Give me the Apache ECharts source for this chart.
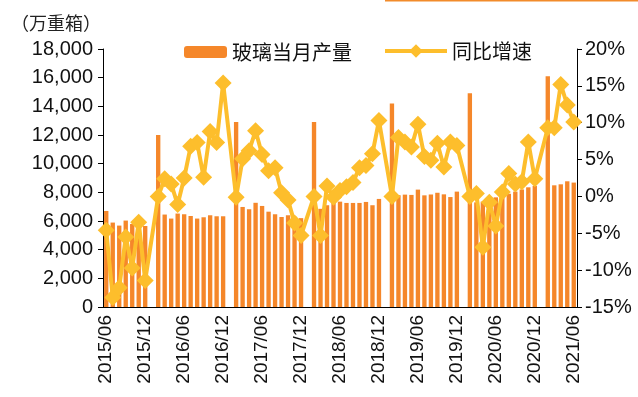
<!DOCTYPE html>
<html>
<head>
<meta charset="utf-8">
<script src="https://cdn.jsdelivr.net/npm/echarts@6/dist/echarts.min.js"></script>
<style>html,body{margin:0;padding:0;background:#fff;}#c{width:638px;height:397px;}</style>
</head>
<body>
<div id="c"></div>
<script>
// Categories: monthly 2015/06 - 2021/06
const months = [];
for (let y = 2015; y <= 2021; y++) {
  for (let m = 1; m <= 12; m++) {
    if (y === 2015 && m < 6) continue;
    if (y === 2021 && m > 6) continue;
    months.push(y + '/' + (m < 10 ? '0' + m : m));
  }
}
// 玻璃当月产量 (万重箱); January not reported (null)
const output2015 = [6700, 5890, 5680, 6030, 5790, 5850, 5650];
const output2016 = [null, 12000, 6450, 6170, 6520, 6470, 6350, 6170, 6260, 6400, 6330, 6330];
const output2017 = [null, 12910, 6980, 6820, 7270, 7050, 6650, 6470, 6280, 6400, 6300, 6200];
const output2018 = [null, 12910, 6850, 7100, 7300, 7350, 7260, 7260, 7260, 7330, 7100, 7540];
const output2019 = [null, 14190, 7800, 7840, 7820, 8190, 7790, 7850, 7970, 7860, 7670, 8050];
const output2020 = [null, 14920, 7300, 7350, 7500, 7650, 7790, 7900, 8050, 8200, 8350, 8450];
const output2021 = [null, 16100, 8490, 8560, 8770, 8680];
// 同比增速 (%)
const yoy2015 = [-4.6, -13.7, -12.4, -5.5, -9.7, -3.5, -11.4];
const yoy2016 = [null, 0.0, 2.4, 1.7, -1.1, 2.5, 6.8, 7.3, 2.6, 8.8, 7.3, 15.4];
const yoy2017 = [null, -0.1, 5.1, 6.2, 8.9, 5.7, 3.5, 3.9, 0.5, -0.5, -3.6, -5.3];
const yoy2018 = [null, 0.0, -5.3, 1.4, -0.1, 0.8, 1.3, 1.9, 3.9, 4.2, 5.8, 10.3];
const yoy2019 = [null, 0.0, 8.0, 7.4, 6.7, 9.8, 5.4, 4.9, 7.2, 4.0, 7.4, 6.9];
const yoy2020 = [null, 0.0, 0.4, -6.9, -0.8, -4.0, 0.6, 3.1, 1.7, 2.0, 7.4, 2.4];
const yoy2021 = [null, 9.3, 9.3, 15.2, 12.4, 10.1];

const outputData = [].concat(output2015, output2016, output2017, output2018, output2019, output2020, output2021);
const yoyData = [].concat(yoy2015, yoy2016, yoy2017, yoy2018, yoy2019, yoy2020, yoy2021);

const leftTicks = [0, 18000, 2000];
const rightTicks = [-15, 20, 5];

const FONT = '"Liberation Sans", Arial, "Noto Sans CJK SC", sans-serif';
const chart = echarts.init(document.getElementById('c'), null, {renderer: 'canvas'});
chart.setOption({
  animation: false,
  backgroundColor: '#fff',
  textStyle: {fontFamily: FONT},
  title: {
    text: '（万重箱）', left: 6, top: 9,
    textStyle: {fontSize: 18, fontWeight: 'normal', color: '#222', fontFamily: '"Noto Sans CJK SC", sans-serif'}
  },
  graphic: [{
    type: 'line', shape: {x1: 385, y1: 0.5, x2: 638, y2: 0.5},
    style: {stroke: '#F28B2B', lineWidth: 2}
  }],
  legend: [{
    data: ['玻璃当月产量'], left: 179, top: 37, itemWidth: 43, itemHeight: 12, itemGap: 5,
    textStyle: {fontSize: 20, color: '#111', fontFamily: '"Noto Sans CJK SC", sans-serif'}
  }, {
    data: ['同比增速'], left: 378, top: 36, itemWidth: 62, itemHeight: 17,
    lineStyle: {width: 4, color: '#FDBE2C'},
    textStyle: {fontSize: 20, color: '#111', fontFamily: '"Noto Sans CJK SC", sans-serif'}
  }],
  grid: {left: 103, right: 61, top: 49, bottom: 90, containLabel: false},
  xAxis: {
    type: 'category', data: months, boundaryGap: true,
    axisLine: {lineStyle: {color: '#000', width: 1}},
    axisTick: {interval: 5, length: 5, lineStyle: {color: '#000'}},
    axisLabel: {interval: 5, rotate: 90, fontSize: 19, color: '#111', margin: 8, fontFamily: FONT}
  },
  yAxis: [{
    type: 'value', min: leftTicks[0], max: leftTicks[1], interval: leftTicks[2],
    axisLine: {show: true, lineStyle: {color: '#000'}},
    axisTick: {show: true, length: 5, lineStyle: {color: '#000'}},
    splitLine: {show: false},
    axisLabel: {fontSize: 20, color: '#111', margin: 10, fontFamily: FONT,
      formatter: v => v.toString().replace(/\B(?=(\d{3})+(?!\d))/g, ',')}
  }, {
    type: 'value', min: rightTicks[0], max: rightTicks[1], interval: rightTicks[2],
    position: 'right',
    axisLine: {show: true, lineStyle: {color: '#000'}},
    axisTick: {show: true, length: 5, lineStyle: {color: '#000'}},
    splitLine: {show: false},
    axisLabel: {fontSize: 20, color: '#111', margin: 8, fontFamily: FONT, formatter: v => v + '%'}
  }],
  series: [{
    name: '玻璃当月产量', type: 'bar', data: outputData, yAxisIndex: 0,
    barCategoryGap: '33%',
    itemStyle: {color: '#F5872A'}
  }, {
    name: '同比增速', type: 'line', data: yoyData, yAxisIndex: 1,
    connectNulls: true, showSymbol: true, showAllSymbol: true,
    symbol: 'diamond', symbolSize: 17,
    lineStyle: {color: '#FDBE2C', width: 4},
    itemStyle: {color: '#FDBE2C'}
  }]
});
</script>
</body>
</html>
